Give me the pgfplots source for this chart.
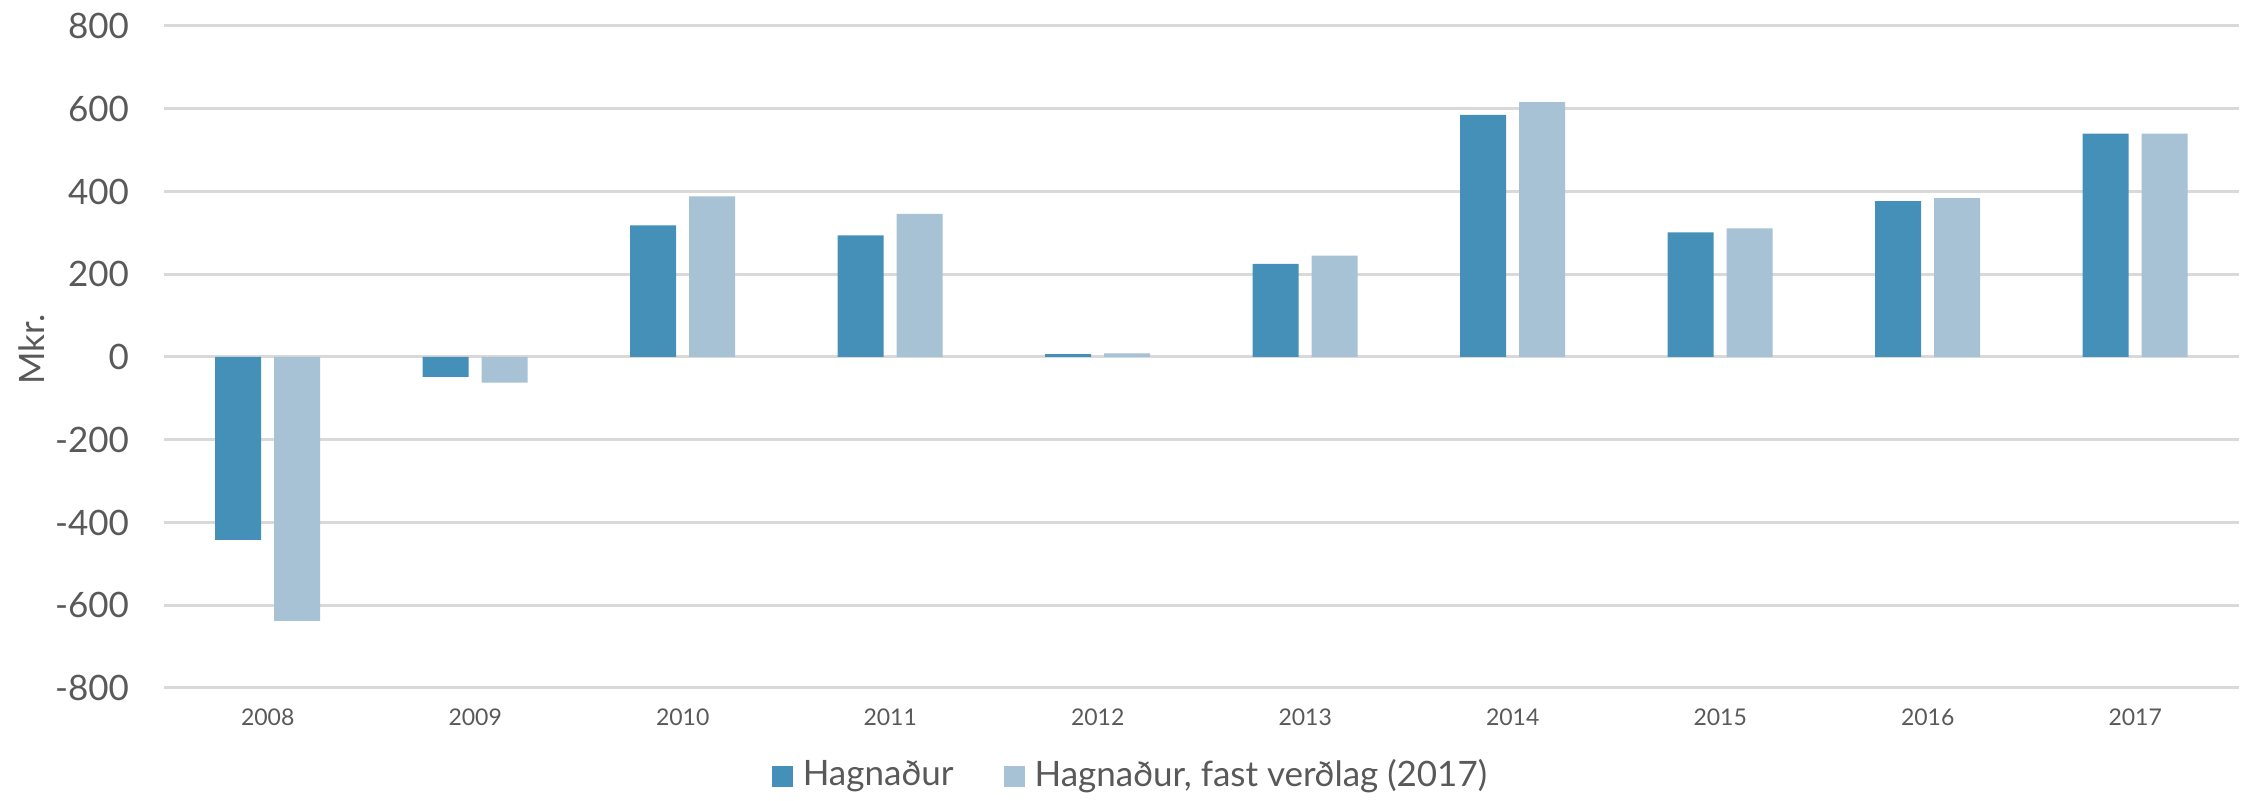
\documentclass[border=0pt]{standalone}
\usepackage{pgfplots}
\pgfplotsset{compat=1.18}
\usepackage{fontspec}
\setmainfont{Lato}
\definecolor{darkb}{HTML}{4590B8}
\definecolor{lightb}{HTML}{A7C1D5}
\definecolor{txt}{HTML}{595959}
\definecolor{gridc}{HTML}{D9D9D9}
\begin{document}
\begin{tikzpicture}
\path[use as bounding box] (0,0) rectangle (450pt,160.2pt);
\begin{axis}[
  at={(32.8pt,22.6pt)}, anchor=south west,
  scale only axis, width=415pt, height=132.4pt,
  xmin=-0.5, xmax=9.5, ymin=-800, ymax=800,
  ytick={-800,-600,...,800},
  xtick={0,...,9}, xticklabels={2008,2009,2010,2011,2012,2013,2014,2015,2016,2017},
  axis line style={draw=none}, major tick length=0pt,
  ymajorgrids, grid style={gridc, line width=0.6pt},
  ybar=2.6pt, bar width=9.2pt,
  /pgf/number format/assume math mode=true,
  yticklabel style={font=\fontsize{7}{8}\selectfont, color=txt, inner sep=0pt, anchor=east, xshift=-6.8pt},
  xticklabel style={font=\fontsize{4.6}{5.5}\selectfont, color=txt, inner sep=0pt, anchor=north, yshift=-4pt},
  ylabel={Mkr.},
  ylabel style={at={(axis description cs:0,0.5)}, yshift=26.4pt, xshift=1.5pt, anchor=center, font=\fontsize{7}{8}\selectfont, color=txt},
  legend style={at={(0.4677,-0.134)}, anchor=center, draw=none, fill=none,
    legend columns=2, font=\fontsize{7}{8}\selectfont, text=txt,
    /tikz/every even column/.append style={column sep=8pt}},
  legend image code/.code={\fill[#1] (0pt,-2.1pt) rectangle (4.2pt,2.1pt);},
]
\addplot[fill=darkb, draw=none] coordinates {(0,-442) (1,-48) (2,318) (3,294) (4,7) (5,225) (6,585) (7,301) (8,377) (9,540)};
\addplot[fill=lightb, draw=none] coordinates {(0,-638) (1,-62) (2,388) (3,346) (4,9) (5,245) (6,616) (7,311) (8,384) (9,540)};
\legend{Hagnaður, {Hagnaður, fast verðlag (2017)}}
\end{axis}
\end{tikzpicture}
\end{document}
